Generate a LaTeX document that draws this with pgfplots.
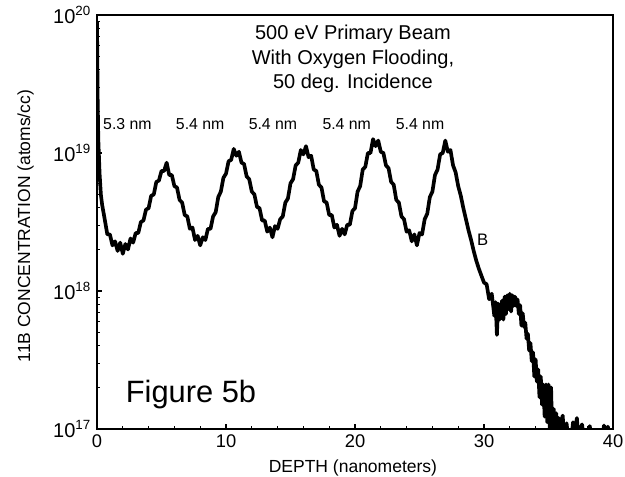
\documentclass[border=0pt]{standalone}
\usepackage{fontspec}
\setmainfont{Liberation Sans}
\usepackage{pgfplots}
\usepackage{pgfplotstable}
\pgfplotsset{compat=1.18}
\pgfplotstableread{
x y
0 8.9e19
0.05 2.5e19
0.1 1.26e19
0.2 7.1e18
0.3 5.0e18
0.4 4.2e18
0.6 3.3e18
0.8 2.57e18
1.0 2.57e18
1.2 2.14e18
1.4 2.29e18
1.6 1.95e18
1.8 2.24e18
2.0 1.86e18
2.2 2.19e18
2.4 2.0e18
2.6 2.4e18
2.8 2.24e18
3.0 2.63e18
3.2 2.63e18
3.4 3.16e18
3.6 3.24e18
3.8 3.89e18
4.0 3.98e18
4.2 4.9e18
4.4 5.0e18
4.6 6.17e18
4.8 6.31e18
5.0 7.41e18
5.2 7.41e18
5.4 8.5e18
5.6 6.92e18
5.8 6.92e18
6.0 5.75e18
6.2 5.62e18
6.4 4.57e18
6.6 4.37e18
6.8 3.55e18
7.0 3.47e18
7.2 2.82e18
7.4 2.88e18
7.6 2.34e18
7.8 2.51e18
8.0 2.14e18
8.2 2.45e18
8.4 2.34e18
8.6 2.82e18
8.8 2.82e18
9.0 3.47e18
9.2 3.72e18
9.4 4.79e18
9.6 5.25e18
9.8 6.61e18
10.0 7.08e18
10.2 8.71e18
10.4 8.91e18
10.6 1.07e19
10.8 9.55e18
11.0 1.02e19
11.2 8.51e18
11.4 8.32e18
11.6 6.76e18
11.8 6.46e18
12.0 5.25e18
12.2 5.01e18
12.4 4.07e18
12.6 3.98e18
12.8 3.24e18
13.0 3.24e18
13.2 2.69e18
13.4 2.88e18
13.6 2.45e18
13.8 2.95e18
14.0 2.82e18
14.2 3.31e18
14.4 3.47e18
14.6 4.37e18
14.8 4.68e18
15.0 6.03e18
15.2 6.46e18
15.4 8.13e18
15.6 8.51e18
15.8 1.05e19
16.0 9.77e18
16.2 1.12e19
16.4 9.33e18
16.6 9.55e18
16.8 7.59e18
17.0 7.41e18
17.2 5.89e18
17.4 5.62e18
17.6 4.47e18
17.8 4.37e18
18.0 3.55e18
18.2 3.55e18
18.4 2.88e18
18.6 3.02e18
18.8 2.51e18
19.0 2.82e18
19.2 2.57e18
19.4 3.02e18
19.6 3.02e18
19.8 3.80e18
20.0 3.98e18
20.2 5.25e18
20.4 5.75e18
20.6 7.59e18
20.8 7.94e18
21.0 1.0e19
21.2 1.0e19
21.4 1.26e19
21.6 1.12e19
21.8 1.23e19
22.0 1.02e19
22.2 1.0e19
22.4 8.13e18
22.6 7.76e18
22.8 6.17e18
23.0 5.89e18
23.2 4.57e18
23.4 4.37e18
23.6 3.47e18
23.8 3.31e18
24.0 2.69e18
24.2 2.75e18
24.4 2.29e18
24.6 2.57e18
24.8 2.14e18
25.0 2.63e18
25.2 2.57e18
25.4 3.31e18
25.6 3.63e18
25.8 4.79e18
26.0 5.25e18
26.2 6.92e18
26.4 7.59e18
26.6 9.77e18
26.8 1.0e19
27.0 1.23e19
27.2 1.02e19
27.4 1.05e19
27.6 8.13e18
27.8 7.24e18
28.0 5.75e18
28.2 4.9e18
28.4 3.98e18
28.6 3.31e18
28.8 2.75e18
29.0 2.34e18
29.2 1.95e18
29.4 1.66e18
29.6 1.45e18
29.8 1.29e18
30.0 1.15e18
30.2 1.12e18
30.4 8.7e17
30.6 9.55e17
30.8 6.6e17
30.9 8.3e17
31.0 4.8e17
31.1 8.1e17
31.2 6.2e17
31.4 8.5e17
31.5 6.2e17
31.6 9.1e17
31.7 6.8e17
31.8 9.3e17
31.9 7.4e17
32.0 9.55e17
32.1 7.1e17
32.2 9.3e17
32.3 7.8e17
32.4 9.1e17
32.5 7.8e17
32.6 8.7e17
32.7 6.8e17
32.8 7.9e17
32.9 5.6e17
33.0 6.9e17
33.1 5.5e17
33.2 5.9e17
33.3 4.5e17
33.4 4.9e17
33.5 3.7e17
33.6 4.2e17
33.7 3.1e17
33.8 3.6e17
33.9 2.4e17
34.0 3.2e17
34.1 2.2e17
34.2 2.7e17
34.3 1.7e17
34.4 2.4e17
34.5 1.5e17
34.6 2.1e17
34.7 1.23e17
34.8 2.1e17
34.9 1.12e17
35.0 2.1e17
35.1 1.0e17
35.2 2.0e17
35.3 8e16
35.4 1.4e17
35.5 8e16
35.6 1.3e17
35.7 9e16
35.8 1.2e17
35.9 9e16
36.0 1.15e17
36.1 1.25e17
36.2 9e16
36.4 1.1e17
36.5 9e16
36.8 9e16
36.9 1.12e17
37.0 9e16
37.2 1.2e17
37.3 9e16
37.6 1.08e17
37.7 9e16
38.0 9e16
38.2 1.05e17
38.3 9e16
39.2 9e16
39.3 1.06e17
39.4 9e16
39.6 1.04e17
39.7 9e16
40 9e16
}\datatable
\begin{document}
\begin{tikzpicture}
\begin{axis}[name=ax,
  scale only axis, width=309.6pt, height=248.4pt,
  xmin=0, xmax=40, ymin=1e17, ymax=1e20, ymode=log,
  axis line style={line width=0.9pt},
  xtick={0,10,20,30,40}, xticklabels={0,10,20,30,40},
  minor x tick num=4,
  ytick={1e17,1e18,1e19,1e20},
  yticklabels={10\textsuperscript{17},10\textsuperscript{18},10\textsuperscript{19},10\textsuperscript{20}},
  tick align=inside, xtick pos=bottom, ytick pos=left,
  major tick length=3pt, minor tick length=1.8pt,
  every tick/.style={black, line width=0.7pt},
  xticklabel style={font=\fontsize{11}{13}\selectfont},
  yticklabel style={font=\fontsize{12}{14}\selectfont},
  xlabel={DEPTH (nanometers)},
  ylabel={11B CONCENTRATION (atoms/cc)},
  label style={font=\fontsize{10.5}{12}\selectfont},
  xlabel style={at={(axis description cs:0.496,-0.104)}, anchor=base},
  ylabel style={at={(axis description cs:-0.1386,0.49)}, anchor=center},
]
\addplot[black, line width=2.2pt, line join=round] table[x=x,y=y] {\datatable};
\node[anchor=base, font=\fontsize{12}{14}\selectfont] at (rel axis cs:0.496,0.9396) {500 eV Primary Beam};
\node[anchor=base, font=\fontsize{12}{14}\selectfont] at (rel axis cs:0.496,0.8804) {With Oxygen Flooding,};
\node[anchor=base, font=\fontsize{12}{14}\selectfont] at (rel axis cs:0.496,0.8213) {50 deg. Incidence};
\node[anchor=base, font=\fontsize{9.5}{11}\selectfont] at (rel axis cs:0.059,0.7222) {5.3 nm};
\node[anchor=base, font=\fontsize{9.5}{11}\selectfont] at (rel axis cs:0.200,0.7222) {5.4 nm};
\node[anchor=base, font=\fontsize{9.5}{11}\selectfont] at (rel axis cs:0.341,0.7222) {5.4 nm};
\node[anchor=base, font=\fontsize{9.5}{11}\selectfont] at (rel axis cs:0.484,0.7222) {5.4 nm};
\node[anchor=base, font=\fontsize{9.5}{11}\selectfont] at (rel axis cs:0.626,0.7222) {5.4 nm};
\node[anchor=base west, font=\fontsize{18.5}{20}\selectfont] at (rel axis cs:0.0446,0.0628) {Figure 5b};
\node[anchor=base west, inner sep=1pt, font=\fontsize{10}{12}\selectfont] at (rel axis cs:0.733,0.442) {B};
\end{axis}
\pgfresetboundingbox
\path ([shift={(-58.2pt,-28.2pt)}]ax.south west) rectangle ([shift={(7.2pt,9pt)}]ax.north east);
\end{tikzpicture}
\end{document}
